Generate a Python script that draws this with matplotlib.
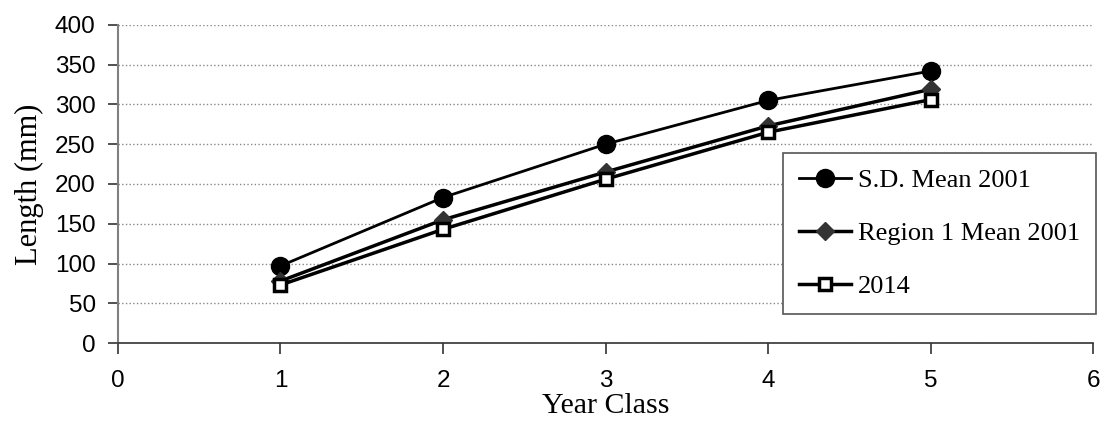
import matplotlib.pyplot as plt

years = [1, 2, 3, 4, 5]
sd_mean_2001 = [97, 183, 250, 305, 342]
region1_mean_2001 = [78, 155, 215, 273, 319]
y2014 = [73, 143, 206, 265, 306]

fig = plt.figure(figsize=(11.02, 4.21), dpi=100)
ax = fig.add_axes([0.107, 0.185, 0.885, 0.756])

ax.plot(years, sd_mean_2001, color='black', lw=2, marker='o', ms=13,
        label='S.D. Mean 2001', zorder=3)
ax.plot(years, region1_mean_2001, color='black', lw=2.5, marker='D', ms=9,
        mfc='#333333', mec='#333333', label='Region 1 Mean 2001', zorder=3)
ax.plot(years, y2014, color='black', lw=2.5, marker='s', ms=8,
        mfc='white', mec='black', mew=2.5, label='2014', zorder=3)

ax.set_xlim(0, 6)
ax.set_ylim(0, 400)
ax.set_xticks(range(0, 7))
ax.set_yticks(range(0, 401, 50))
ax.yaxis.grid(True, linestyle=':', color='#888888', lw=1)
ax.set_axisbelow(True)

for s in ['top', 'right']:
    ax.spines[s].set_visible(False)
ax.spines['left'].set_color('#808080')
ax.spines['left'].set_linewidth(1.5)
ax.spines['bottom'].set_color('#333333')
ax.spines['bottom'].set_linewidth(1.2)
ax.tick_params(axis='y', direction='out', length=7, color='#333333',
               width=1.2, labelsize=17.5, pad=9)
ax.tick_params(axis='x', direction='out', length=8, color='#333333',
               width=1.2, labelsize=17.5, pad=11)
for lab in ax.get_xticklabels() + ax.get_yticklabels():
    lab.set_fontfamily('Liberation Sans')

ax.set_xlabel('Year Class', fontfamily='Liberation Serif', fontsize=21.5,
              labelpad=1)
ax.set_ylabel('Length (mm)', fontfamily='Liberation Serif', fontsize=22,
              labelpad=8)

leg = ax.legend(loc='upper right', bbox_to_anchor=(1096 / 1102, 1 - 153 / 421),
                bbox_transform=fig.transFigure, borderaxespad=0,
                prop={'family': 'Liberation Serif', 'size': 19},
                frameon=True, fancybox=False, edgecolor='#555555',
                framealpha=1, handlelength=2.0, handletextpad=0.25,
                labelspacing=1.12, borderpad=0.6)
leg.get_frame().set_linewidth(1.2)

fig.savefig('out.png', dpi=100)
